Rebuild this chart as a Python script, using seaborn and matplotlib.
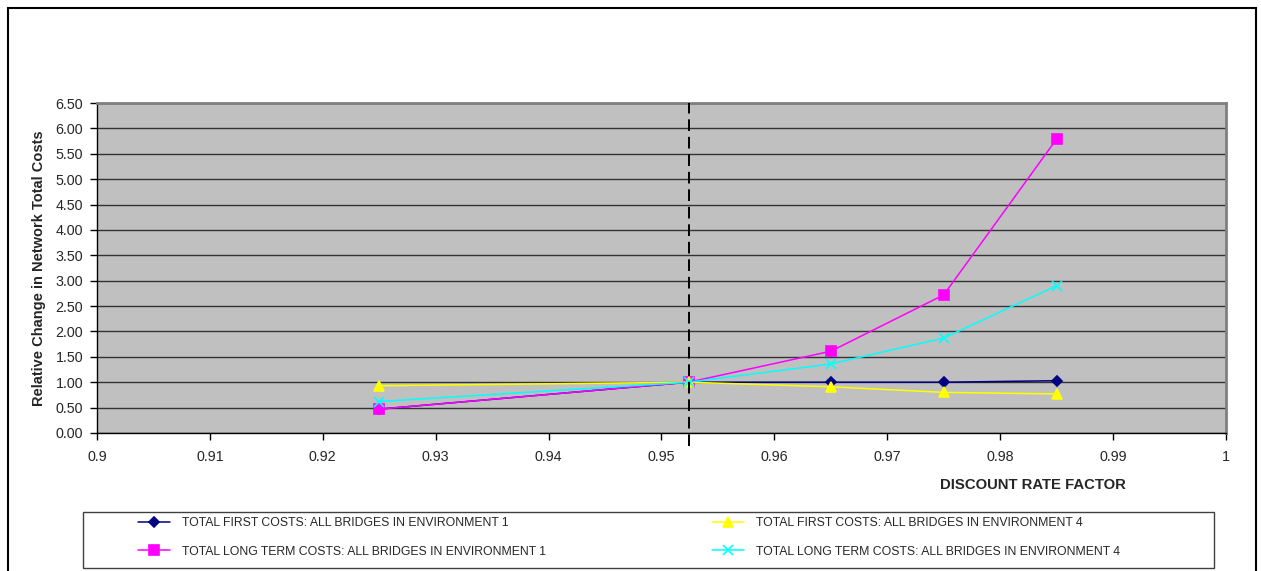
import pandas as pd
import matplotlib.pyplot as plt
import seaborn as sns
from matplotlib.patches import Rectangle
from matplotlib.ticker import FormatStrFormatter, MultipleLocator

# discount rate factor values
x_vals = [0.925, 0.9524, 0.965, 0.975, 0.985]
first_env1 = [0.47, 1.00, 1.00, 1.00, 1.03]
first_env4 = [0.93, 1.00, 0.91, 0.80, 0.77]
long_env1 = [0.47, 1.00, 1.61, 2.72, 5.79]
long_env4 = [0.62, 1.00, 1.36, 1.87, 2.90]
base_factor = 0.9524

names = ["TOTAL FIRST COSTS: ALL BRIDGES IN ENVIRONMENT 1",
         "TOTAL LONG TERM COSTS: ALL BRIDGES IN ENVIRONMENT 1",
         "TOTAL FIRST COSTS: ALL BRIDGES IN ENVIRONMENT 4",
         "TOTAL LONG TERM COSTS: ALL BRIDGES IN ENVIRONMENT 4"]
series = [first_env1, long_env1, first_env4, long_env4]
colors = ["#000080", "#FF00FF", "#FFFF00", "#00FFFF"]
markers = ["D", "s", "^", "x"]
msizes = [5.5, 6.5, 7.5, 7.5]

sns.set_style("white")
plt.rcParams["font.family"] = ["Liberation Sans", "DejaVu Sans"]

fig = plt.figure(figsize=(12.61, 5.71), dpi=100)
ax = fig.add_axes([0.0769, 0.2417, 0.8953, 0.5779])
ax.set_facecolor("#C0C0C0")

for name, vals, c, m, ms in zip(names, series, colors, markers, msizes):
    df = pd.DataFrame({"x": x_vals, "y": vals})
    sns.lineplot(data=df, x="x", y="y", ax=ax, color=c, marker=m,
                 markersize=ms, markeredgecolor=c, markeredgewidth=1.2,
                 linewidth=1.1, label=name, legend=False)

ax.plot([base_factor, base_factor], [-0.25, 6.5], color="black",
        linestyle=(0, (6, 3)), linewidth=1.4, clip_on=False, zorder=5)

ax.set_xlim(0.9, 1.0)
ax.set_ylim(0, 6.5)
ax.yaxis.set_major_locator(MultipleLocator(0.5))
ax.yaxis.set_major_formatter(FormatStrFormatter("%.2f"))
ax.set_xticks([0.9, 0.91, 0.92, 0.93, 0.94, 0.95, 0.96, 0.97, 0.98, 0.99, 1.0])
ax.set_xticklabels(["0.9", "0.91", "0.92", "0.93", "0.94", "0.95", "0.96",
                    "0.97", "0.98", "0.99", "1"])
ax.grid(axis="y", color="#333333", linewidth=1)
ax.grid(axis="x", visible=False)
ax.tick_params(axis="both", labelsize=10.3, length=5, width=1, color="black",
               direction="out", left=True, bottom=True, pad=5)
ax.tick_params(axis="x", pad=7)
for s in ["left", "bottom"]:
    ax.spines[s].set_color("black")
    ax.spines[s].set_linewidth(1)
for s in ["top", "right"]:
    ax.spines[s].set_color("#808080")
    ax.spines[s].set_linewidth(2)

ax.set_xlabel("")
ax.set_ylabel("Relative Change in Network Total Costs", fontsize=10.5,
              fontweight="bold", labelpad=7)
fig.text(0.819, 0.150, "DISCOUNT RATE FACTOR", fontsize=10.7,
         fontweight="bold", ha="center", va="center")

handles, labels = ax.get_legend_handles_labels()
fig.legend(handles, labels, ncol=2, loc="center", mode="expand",
           bbox_to_anchor=(0.1094, 0.0387, 0.7787, 0.04), frameon=False,
           fontsize=8.8, handlelength=2.6, handletextpad=1.0,
           labelspacing=1.35, borderpad=0, borderaxespad=0)
fig.patches.append(Rectangle((0.0658, 0.006), 0.897, 0.098,
                             transform=fig.transFigure, fill=False,
                             edgecolor="#404040", linewidth=1))
fig.patches.append(Rectangle((0.0063, -0.05), 0.9897, 1.036,
                             transform=fig.transFigure, fill=False,
                             edgecolor="black", linewidth=1.5))

fig.savefig("out.png", dpi=100)
